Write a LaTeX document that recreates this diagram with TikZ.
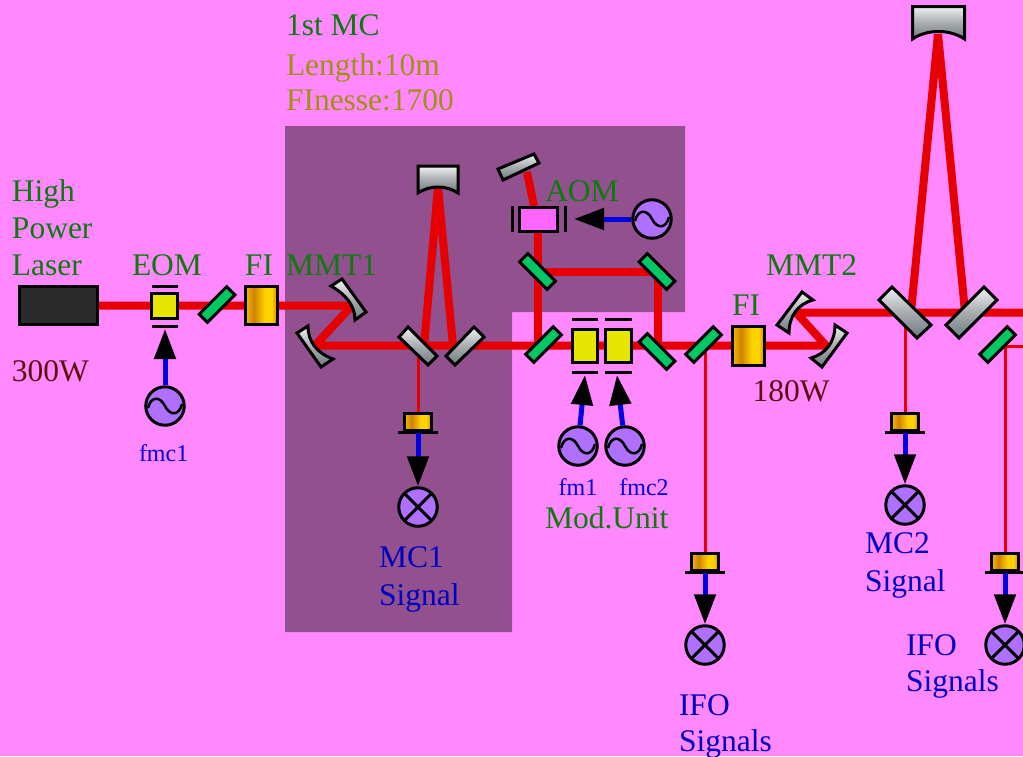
\documentclass[tikz,border=0pt]{standalone}
\usepackage{fontspec}
\setmainfont{Liberation Serif}
\usetikzlibrary{arrows.meta}
\definecolor{bgpink}{HTML}{FF88FF}
\definecolor{regionpurple}{HTML}{92508E}
\definecolor{beamred}{HTML}{E60000}
\definecolor{txtgreen}{HTML}{0E7A0E}
\definecolor{txtolive}{HTML}{A09018}
\definecolor{txtbrown}{HTML}{5C1010}
\definecolor{txtblue}{HTML}{0000E0}
\definecolor{txtnavy}{HTML}{0000C0}
\definecolor{srcviolet}{HTML}{B070FF}
\definecolor{optgreen}{HTML}{00C864}
\definecolor{eomyellow}{HTML}{E6E600}
\definecolor{aompink}{HTML}{FF66FF}
\definecolor{shwhite}{HTML}{F0F2F2}
\definecolor{shgray}{HTML}{A8ACAE}
\definecolor{shdark}{HTML}{6E7C82}
\definecolor{fia}{HTML}{F0C000}
\definecolor{fib}{HTML}{D08000}
\definecolor{fic}{HTML}{FFD200}
\pgfdeclareverticalshading{mirrorsh}{100bp}{color(0bp)=(shdark);color(25bp)=(shdark);color(50bp)=(shgray);color(75bp)=(shwhite);color(100bp)=(shwhite)}
\pgfdeclarehorizontalshading{fish}{100bp}{color(0bp)=(fia);color(25bp)=(fia);color(38bp)=(fib);color(55bp)=(fic);color(66bp)=(fic);color(75bp)=(fib);color(100bp)=(fib)}
\tikzset{
  beam/.style={draw=beamred,line width=8pt},
  thinbeam/.style={draw=beamred,line width=3pt},
  part/.style={draw=black,line width=3pt,inner sep=0pt,outer sep=0pt,rectangle},
  greenmirror/.style={part,fill=optgreen,minimum width=39pt,minimum height=11.5pt},
  graymirror/.style={part,line join=miter,shading=mirrorsh},
  barline/.style={draw=black,line width=3pt},
  eombox/.style={part,fill=eomyellow},
  fibox/.style={part,shading=fish,minimum width=32pt,minimum height=38.5pt},
  pdbox/.style={part,shading=fish,minimum width=27pt,minimum height=17.5pt},
  src/.style={circle,draw=black,line width=3pt,fill=srcviolet,minimum size=38.5pt,inner sep=0pt,outer sep=1.5pt},
  wave/.style={draw=black,line width=2.5pt},
  detector/.style={circle,draw=black,line width=3pt,fill=srcviolet,minimum size=38.5pt,inner sep=0pt,outer sep=1.5pt,
    path picture={\draw[black,line width=3pt] (path picture bounding box.north west) -- (path picture bounding box.south east)
      (path picture bounding box.north east) -- (path picture bounding box.south west);}},
  drive/.style={draw=blue!90!black,line width=5pt,-{Triangle[color=black,length=30pt,width=21pt]}},
  lbl/.style={inner sep=0pt,outer sep=0pt,anchor=base west,font=\fontsize{31.5}{31.5}\selectfont},
  lblc/.style={lbl,anchor=base},
  small/.style={font=\fontsize{24}{24}\selectfont},
}
\newcommand{\sinewave}[1]{\draw[wave,shift={(#1.center)}] (-17,2) .. controls (-14,-10) and (-5,-10) .. (0,0) .. controls (5,10) and (14,10) .. (17,-2);}
\begin{document}
\begin{tikzpicture}[x=1pt,y=-1pt]
\useasboundingbox (0,0) rectangle (1023,756);
\fill[bgpink] (0,0) rectangle (1023,756);
\fill[regionpurple] (285,126) -- (685,126) -- (685,312) -- (512,312) -- (512,632) -- (285,632) -- cycle;
% beam points
\coordinate (laserout) at (98,305.5);
\coordinate (mmtOneA) at (352,305.5);
\coordinate (mmtOneB) at (315,345.5);
\coordinate (aomjoin) at (538,345.5);
\coordinate (modjoin) at (658,345.5);
\coordinate (mmtTwoA) at (826,345.5);
\coordinate (mmtTwoB) at (796,312.5);
\coordinate (rightend) at (1023,312.5);
\coordinate (cavOneTop) at (438,187);
\coordinate (cavOneL) at (424,346);
\coordinate (cavOneR) at (453,346);
\coordinate (cavTwoTop) at (938,34);
\coordinate (cavTwoL) at (911,312);
\coordinate (cavTwoR) at (965,312);
\coordinate (aomturnL) at (538,272);
\coordinate (aomturnR) at (658,272);
\coordinate (aomtop) at (538,233);
\coordinate (aomin) at (534,206);
\coordinate (aomback) at (527,172);
\coordinate (pickOneA) at (418,352);
\coordinate (pickOneB) at (418,412);
\coordinate (pickTwoA) at (705,346);
\coordinate (pickTwoB) at (705,552);
\coordinate (pickThreeA) at (905,320);
\coordinate (pickThreeB) at (905,412);
\coordinate (pickFourA) at (1005,346.5);
\coordinate (pickFourB) at (1005,552);
\coordinate (pickFourC) at (1023,346.5);
% beams
\draw[beam] (laserout) -- (mmtOneA) -- (mmtOneB) -- (mmtTwoA) -- (mmtTwoB) -- (rightend);
\draw[beam] (cavOneTop) -- (cavOneL);
\draw[beam] (cavOneTop) -- (cavOneR);
\draw[beam] (cavTwoTop) -- (cavTwoL);
\draw[beam] (cavTwoTop) -- (cavTwoR);
\draw[beam] (aomjoin) -- (aomtop);
\draw[beam] (aomin) -- (aomback);
\draw[beam] (aomturnL) -- (aomturnR) -- (modjoin);
\draw[thinbeam] (pickOneA) -- (pickOneB);
\draw[thinbeam] (pickTwoA) -- (pickTwoB);
\draw[thinbeam] (pickThreeA) -- (pickThreeB);
\draw[thinbeam] (pickFourB) -- (pickFourA) -- (pickFourC);
% laser and first modulator
\node[part,fill=black!83,minimum width=78pt,minimum height=38.5pt] (laser) at (58,305.5) {};
\node[eombox,minimum width=26pt,minimum height=25.5pt] (eom) at (164.5,306) {};
\draw[barline] (152,286) -- (178,286);
\draw[barline] (152,326) -- (178,326);
\node[greenmirror,rotate=45] (mA) at (217,304.5) {};
\node[fibox] (fiA) at (261.5,305.5) {};
% MMT1
\path[graymirror] (331,286) -- (342,279) -- (366,312) -- (355,320) .. controls (355,305) and (345,294) .. (331,286) -- cycle;
\path[graymirror] (297,333) -- (308,326) .. controls (308,342) and (317,353) .. (333,359) -- (321,367) -- cycle;
% first cavity
\path[graymirror] (418,166) -- (458,166) -- (458,193) .. controls (446,185) and (430,185) .. (418,193) -- cycle;
\path[graymirror] (408,327) -- (437,356) -- (428,365) -- (399,337) -- cycle;
\path[graymirror] (474,327) -- (484,337) -- (455,365) -- (446,356) -- cycle;
% AOM branch
\path[graymirror] (498,169) -- (534,154) -- (539,163) -- (503,180) -- cycle;
\node[part,fill=aompink,minimum width=38.5pt,minimum height=24.5pt] (aom) at (538.5,219.5) {};
\draw[barline] (512,206) -- (512,232);
\draw[barline] (565,206) -- (565,232);
\node[greenmirror,rotate=-45] (mB) at (537.5,271.5) {};
\node[greenmirror,rotate=-45] (mC) at (657,271.5) {};
\node[greenmirror,rotate=45] (mD) at (543.5,344.5) {};
\node[greenmirror,rotate=-45] (mE) at (657,351.5) {};
\node[greenmirror,rotate=45] (mF) at (703.5,344.5) {};
\node[eombox,minimum width=25.5pt,minimum height=33.5pt] (modA) at (585,346) {};
\node[eombox,minimum width=25.5pt,minimum height=33.5pt] (modB) at (618.5,346) {};
\draw[barline] (572,319) -- (598,319);
\draw[barline] (605,319) -- (632,319);
\draw[barline] (572,372) -- (598,372);
\draw[barline] (605,372) -- (632,372);
\node[fibox,minimum height=39pt] (fiB) at (748.5,346) {};
% MMT2
\path[graymirror] (835,325) -- (847,333) -- (822,367) -- (811,358) .. controls (825,354) and (835,343) .. (835,325) -- cycle;
\path[graymirror] (802,292) -- (813,300) .. controls (798,304) and (789,316) .. (789,333) -- (777,325) -- cycle;
% second cavity
\path[graymirror] (912.5,6.5) -- (964.5,6.5) -- (964.5,39) .. controls (950,29) and (927,29) .. (912.5,39) -- cycle;
\path[graymirror] (892,287) -- (931,325) -- (917,338) -- (879,300) -- cycle;
\path[graymirror] (984,287) -- (997,300) -- (959,338) -- (946,325) -- cycle;
\node[greenmirror,rotate=45] (mG) at (997.5,344.5) {};
% photodetectors
\node[pdbox] (pdA) at (418,422) {};
\draw[barline] (398,432.5) -- (438,432.5);
\node[pdbox] (pdB) at (705,562) {};
\draw[barline] (685,572.5) -- (725,572.5);
\node[pdbox] (pdC) at (905,422) {};
\draw[barline] (885,432.5) -- (925,432.5);
\node[pdbox] (pdD) at (1005,562) {};
\draw[barline] (985,572.5) -- (1023,572.5);
% detectors
\node[detector] (detA) at (418,507) {};
\node[detector] (detB) at (705,645) {};
\node[detector] (detC) at (905,505) {};
\node[detector] (detD) at (1005,645) {};
\draw[drive] (pdA.south) ++(0,2) -- (detA.north);
\draw[drive] (pdB.south) ++(0,2) -- (detB.north);
\draw[drive] (pdC.south) ++(0,2) -- (detC.north);
\draw[drive] (pdD.south) ++(0,2) -- (detD.north);
% sources
\node[src] (srcEom) at (165,406) {};
\node[src] (srcAom) at (652,219) {};
\node[src] (srcFm) at (578,446) {};
\node[src] (srcFmc) at (625,446) {};
\sinewave{srcEom}
\sinewave{srcAom}
\sinewave{srcFm}
\sinewave{srcFmc}
\coordinate (tipEom) at (165,329);
\coordinate (tipAom) at (574,219);
\coordinate (tipFm) at (585,375);
\coordinate (tipFmc) at (617,375);
\draw[drive] (srcEom) -- (tipEom);
\draw[drive] (srcAom) -- (tipAom);
\draw[drive] (srcFm) -- (tipFm);
\draw[drive] (srcFmc) -- (tipFmc);
% labels
\node[lbl,txtgreen] (tMc) at (286,35) {1st MC};
\node[lbl,txtolive] (tLen) at (286,75) {Length:10m};
\node[lbl,txtolive] (tFin) at (286,110) {FInesse:1700};
\node[lbl,txtgreen] (tHigh) at (12,201) {High};
\node[lbl,txtgreen] (tPower) at (12,238) {Power};
\node[lbl,txtgreen] (tLaser) at (12,275) {Laser};
\node[lblc,txtgreen] (tEom) at (167,275) {EOM};
\node[lblc,txtgreen] (tFiA) at (259,275) {FI};
\node[lbl,txtgreen] (tMmtA) at (286,275) {MMT1};
\node[lbl,txtbrown] (t300) at (12,381) {300W};
\node[lbl,small,txtblue] (tFmcA) at (139,461) {fmc1};
\node[lblc,txtgreen] (tAom) at (582,201) {AOM};
\node[lblc,txtgreen] (tFiB) at (746,315) {FI};
\node[lbl,txtgreen] (tMmtB) at (766,275) {MMT2};
\node[lblc,txtbrown] (t180) at (791,401) {180W};
\node[lblc,small,txtblue] (tFmA) at (578,495) {fm1};
\node[lblc,small,txtblue] (tFmcB) at (644,495) {fmc2};
\node[lbl,txtgreen] (tMod) at (545,528) {Mod.Unit};
\node[lbl,txtnavy] (tMcA) at (379,567) {MC1};
\node[lbl,txtnavy] (tSigA) at (379,605) {Signal};
\node[lbl,txtnavy] (tMcB) at (865,553) {MC2};
\node[lbl,txtnavy] (tSigB) at (865,591) {Signal};
\node[lbl,txtnavy] (tIfoA) at (679,715) {IFO};
\node[lbl,txtnavy] (tSigsA) at (679,751) {Signals};
\node[lbl,txtnavy] (tIfoB) at (906,655) {IFO};
\node[lbl,txtnavy] (tSigsB) at (906,691) {Signals};
\end{tikzpicture}
\end{document}
